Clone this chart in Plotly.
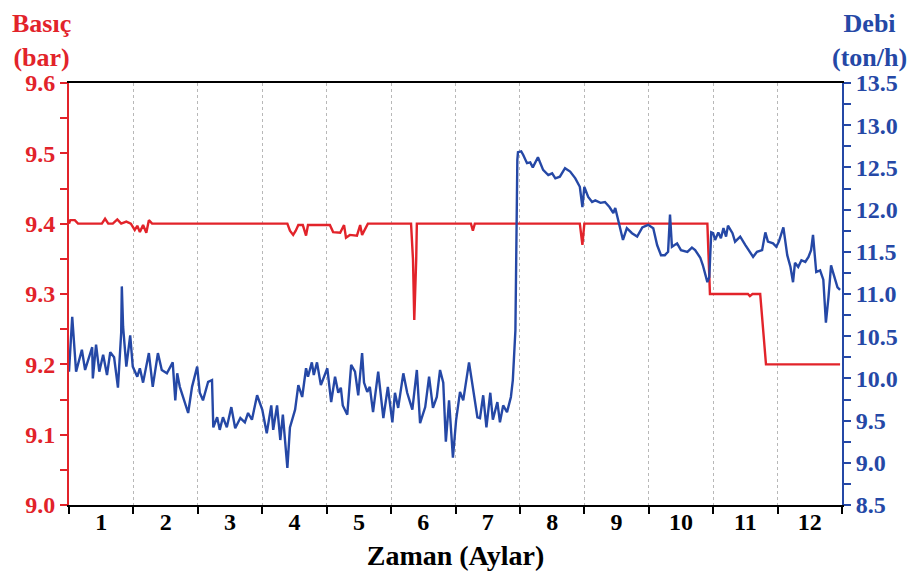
import plotly.graph_objects as go

# ---- data ----
month_labels = ["1", "2", "3", "4", "5", "6", "7", "8", "9", "10", "11", "12"]
month_centers = [0.5, 1.5, 2.5, 3.5, 4.5, 5.5, 6.5, 7.5, 8.5, 9.5, 10.5, 11.5]
month_bounds = [0, 1, 2, 3, 4, 5, 6, 7, 8, 9, 10, 11, 12]

pressure_x = [0.00, 0.02, 0.09, 0.14, 0.51, 0.56, 0.61, 0.68, 0.75, 0.81, 0.89, 0.96,
              1.02, 1.06, 1.10, 1.15, 1.20, 1.24, 1.29,
              3.39, 3.43, 3.48, 3.52, 3.56, 3.63, 3.68, 3.71,
              4.05, 4.10, 4.21, 4.27, 4.30, 4.36, 4.47, 4.52, 4.55, 4.64,
              5.31, 5.34, 5.36, 5.39, 5.40,
              6.24, 6.27, 6.30,
              7.93, 7.97, 8.00,
              9.91, 9.95,
              10.54, 10.57, 10.61, 10.73, 10.82, 11.97]
pressure_bar = [9.40, 9.405, 9.405, 9.40, 9.40, 9.407, 9.40, 9.40, 9.406, 9.40, 9.403, 9.40,
                9.391, 9.397, 9.388, 9.398, 9.387, 9.405, 9.40,
                9.40, 9.39, 9.384, 9.39, 9.398, 9.398, 9.383, 9.398,
                9.398, 9.388, 9.387, 9.398, 9.38, 9.384, 9.383, 9.398, 9.384, 9.40,
                9.40, 9.349, 9.263, 9.349, 9.40,
                9.40, 9.39, 9.40,
                9.40, 9.37, 9.40,
                9.40, 9.30,
                9.30, 9.297, 9.30, 9.30, 9.20, 9.20]

flow_x = [0.00, 0.05, 0.11, 0.20, 0.25, 0.36, 0.37, 0.42, 0.47, 0.53, 0.59, 0.64, 0.70, 0.76, 0.81, 0.82, 0.84, 0.89, 0.95, 0.99,
          1.06, 1.10, 1.15, 1.24, 1.30, 1.38, 1.44, 1.52, 1.61, 1.65, 1.68, 1.72, 1.77, 1.85, 1.91, 1.99,
          2.03, 2.08, 2.16, 2.22, 2.24, 2.30, 2.34, 2.39, 2.45, 2.52, 2.58, 2.66, 2.73, 2.78, 2.84, 2.92,
          3.00, 3.07, 3.14, 3.17, 3.23, 3.28, 3.32, 3.39, 3.43, 3.51, 3.56, 3.62, 3.68, 3.71, 3.77, 3.80, 3.85, 3.91,
          4.01, 4.07, 4.13, 4.18, 4.22, 4.25, 4.32, 4.38, 4.44, 4.49, 4.55, 4.58, 4.63, 4.67, 4.72, 4.80, 4.88, 4.95,
          5.02, 5.06, 5.11, 5.19, 5.25, 5.33, 5.40, 5.45, 5.53, 5.59, 5.65, 5.71, 5.76, 5.81, 5.85, 5.90, 5.96,
          6.01, 6.07, 6.12, 6.21, 6.27, 6.34, 6.38, 6.43, 6.48, 6.54, 6.58, 6.65, 6.69, 6.74, 6.80, 6.86, 6.89, 6.93, 6.96, 6.97,
          7.02, 7.05, 7.11, 7.16, 7.20, 7.28, 7.36, 7.44, 7.50, 7.55, 7.62, 7.70, 7.78, 7.86, 7.93, 7.97,
          8.00, 8.06, 8.12, 8.17, 8.25, 8.32, 8.39, 8.45, 8.48, 8.52, 8.60, 8.66, 8.74, 8.82, 8.90, 8.99,
          9.07, 9.13, 9.19, 9.25, 9.30, 9.33, 9.36, 9.44, 9.50, 9.60, 9.67, 9.72, 9.80, 9.84, 9.91, 9.94, 9.97,
          10.00, 10.03, 10.08, 10.12, 10.16, 10.20, 10.23, 10.30, 10.34, 10.42, 10.50, 10.57, 10.62, 10.68, 10.76, 10.81, 10.85, 10.93, 10.98,
          11.02, 11.09, 11.15, 11.20, 11.24, 11.27, 11.32, 11.37, 11.43, 11.48, 11.52, 11.55, 11.60, 11.66, 11.71, 11.75, 11.79, 11.83, 11.86, 11.93, 11.97]
flow_tph = [10.08, 10.73, 10.08, 10.34, 10.10, 10.37, 10.00, 10.40, 10.08, 10.28, 10.04, 10.31, 10.25, 9.89, 10.54, 11.09, 10.61, 10.14, 10.51, 10.14,
            10.02, 10.12, 9.95, 10.30, 9.90, 10.30, 10.10, 10.06, 10.19, 9.74, 10.06, 9.90, 9.78, 9.59, 9.90, 10.14,
            9.83, 9.74, 9.96, 9.98, 9.42, 9.54, 9.39, 9.54, 9.42, 9.66, 9.41, 9.53, 9.48, 9.59, 9.51, 9.80,
            9.63, 9.35, 9.68, 9.39, 9.68, 9.27, 9.57, 8.94, 9.42, 9.63, 9.92, 9.78, 10.12, 10.02, 10.19, 10.04, 10.19, 9.92,
            10.12, 9.72, 10.02, 9.83, 9.89, 9.68, 9.57, 10.16, 10.08, 9.80, 10.30, 9.95, 9.84, 9.90, 9.60, 10.08, 9.53, 9.90,
            9.48, 9.83, 9.65, 10.06, 9.83, 9.63, 10.10, 9.47, 9.66, 10.02, 9.65, 9.78, 10.10, 9.95, 9.25, 9.74, 9.06,
            9.51, 9.84, 9.74, 10.19, 9.90, 9.54, 9.53, 9.80, 9.42, 9.83, 9.51, 9.72, 9.48, 9.68, 9.60, 9.78, 9.98, 10.57, 12.59, 12.68,
            12.69, 12.65, 12.55, 12.56, 12.50, 12.62, 12.47, 12.41, 12.43, 12.37, 12.39, 12.49, 12.45, 12.37, 12.27, 12.03,
            12.27, 12.15, 12.09, 12.11, 12.08, 12.09, 12.03, 11.96, 12.02, 11.88, 11.64, 11.78, 11.72, 11.68, 11.79, 11.82,
            11.78, 11.58, 11.46, 11.46, 11.50, 11.94, 11.56, 11.60, 11.52, 11.50, 11.55, 11.52, 11.43, 11.34, 11.14, 11.20, 11.73,
            11.72, 11.64, 11.73, 11.66, 11.78, 11.68, 11.81, 11.72, 11.62, 11.68, 11.58, 11.50, 11.44, 11.50, 11.52, 11.73, 11.62, 11.60, 11.56,
            11.62, 11.79, 11.46, 11.32, 11.14, 11.37, 11.32, 11.40, 11.38, 11.44, 11.52, 11.70, 11.26, 11.28, 11.17, 10.66, 10.96, 11.34, 11.26, 11.08, 11.05]

RED = "#e2232a"
BLUE = "#2548a6"
FONT = "Liberation Serif"

fig = go.Figure()
fig.add_trace(go.Scatter(x=pressure_x, y=pressure_bar, mode="lines",
                         line=dict(color=RED, width=2.4), yaxis="y", showlegend=False))
fig.add_trace(go.Scatter(x=flow_x, y=flow_tph, mode="lines",
                         line=dict(color=BLUE, width=2.4), yaxis="y2", showlegend=False))

TOP_Y = 497 / 422  # paper y of the figure's top edge

fig.update_layout(
    width=916, height=580,
    margin=dict(l=61, r=82, t=75, b=83),
    paper_bgcolor="white", plot_bgcolor="white",
    font=dict(family=FONT),
    xaxis=dict(
        range=[0, 12], tickmode="array", tickvals=month_centers, ticktext=month_labels,
        ticks="", showgrid=False, zeroline=False,
        showline=True, linecolor="black", linewidth=2, mirror=True,
        tickfont=dict(family=FONT, size=24, color="black", weight="bold"),
        ticklabelstandoff=-6,
        minor=dict(tickmode="array", tickvals=month_bounds, ticks="outside", ticklen=7,
                   tickwidth=2, tickcolor="black", showgrid=True, gridcolor="#b8b8b8",
                   griddash="dot", gridwidth=1),
        title=dict(text="Zaman (Aylar)", font=dict(family=FONT, size=28, color="black", weight="bold"),
                   standoff=12),
    ),
    yaxis=dict(
        range=[9.0, 9.6], tick0=9.0, dtick=0.1, tickformat=".1f",
        ticks="outside", ticklen=7, tickwidth=1.5, tickcolor=RED,
        showline=True, linecolor=RED, linewidth=2, showgrid=False, zeroline=False,
        tickfont=dict(family=FONT, size=24, color=RED, weight="bold"),
        minor=dict(dtick=0.05, ticks="outside", ticklen=7, tickwidth=1.5, tickcolor=RED, showgrid=False),
    ),
    yaxis2=dict(
        range=[8.5, 13.5], tick0=8.5, dtick=0.5, tickformat=".1f",
        overlaying="y", side="right",
        ticks="outside", ticklen=7, tickwidth=1.5, tickcolor=BLUE,
        showline=True, linecolor=BLUE, linewidth=2, showgrid=False, zeroline=False,
        tickfont=dict(family=FONT, size=24, color=BLUE, weight="bold"),
        minor=dict(dtick=0.25, ticks="outside", ticklen=7, tickwidth=1.5, tickcolor=BLUE, showgrid=False),
    ),
    annotations=[
        dict(text="Basıç<br>(bar)", xref="paper", yref="paper", x=-0.035, y=TOP_Y,
             xanchor="center", yanchor="top", showarrow=False, borderpad=0,
             font=dict(family=FONT, size=26, color=RED, weight="bold")),
        dict(text="Debi<br>(ton/h)", xref="paper", yref="paper", x=1.035, y=TOP_Y,
             xanchor="center", yanchor="top", showarrow=False, borderpad=0,
             font=dict(family=FONT, size=26, color=BLUE, weight="bold")),
    ],
)

fig.write_html("out.html")
